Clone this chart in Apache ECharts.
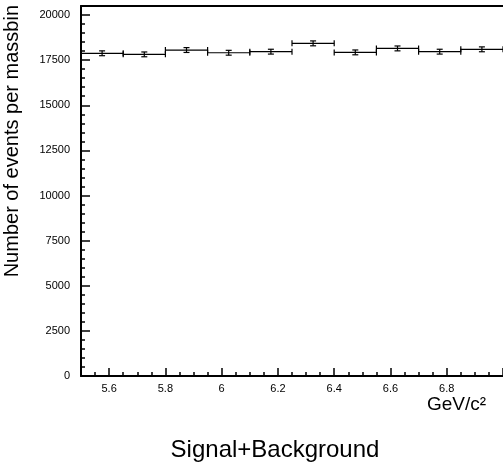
<!DOCTYPE html>
<html>
<head>
<meta charset="utf-8">
<script src="https://cdn.jsdelivr.net/npm/echarts@6/dist/echarts.min.js"></script>
<style>
  html, body { margin: 0; padding: 0; background: #fff; }
  #main { width: 503px; height: 463px; }
</style>
</head>
<body>
<div id="main"></div>
<script>
// histogram bins (GeV/c^2)
const binLow = [5.5, 5.65, 5.8, 5.95, 6.1, 6.25, 6.4, 6.55, 6.7, 6.85];
const binWidth = 0.15;
const counts = [17880, 17820, 18060, 17910, 17970, 18430, 17930, 18150, 17970, 18100];
const errors = [134, 133, 134, 134, 134, 136, 134, 135, 134, 135];
const xTicks = [5.6, 5.8, 6.0, 6.2, 6.4, 6.6, 6.8, 7.0];
const xLabels = [5.6, 5.8, 6.0, 6.2, 6.4, 6.6, 6.8];
const yTicks = [0, 2500, 5000, 7500, 10000, 12500, 15000, 17500, 20000];

const histData = binLow.map((lo, i) => [lo, lo + binWidth, counts[i], errors[i]]);

const myChart = echarts.init(document.getElementById('main'));
const black = '#000';
const font = 'Liberation Sans, Arial, sans-serif';

myChart.setOption({
  animation: false,
  grid: { left: 81, right: 0, top: 6, bottom: 87 },
  xAxis: [
    { // minor ticks
      type: 'value', min: 5.5, max: 7.0, interval: 0.05, position: 'bottom',
      axisLine: { onZero: false, lineStyle: { color: black, width: 2 } },
      axisTick: { inside: true, length: 4, lineStyle: { color: black, width: 1.5 } },
      axisLabel: { show: false },
      splitLine: { show: false }
    },
    { // major ticks + labels
      type: 'value', min: 5.5, max: 7.0, position: 'bottom',
      axisLine: { show: false, onZero: false },
      axisTick: { inside: true, length: 8, customValues: xTicks, lineStyle: { color: black, width: 1.5 } },
      axisLabel: { customValues: xLabels, margin: 7, color: black, fontSize: 11, fontFamily: font,
        formatter: v => String(v) },
      splitLine: { show: false }
    },
    { // top frame
      type: 'value', min: 5.5, max: 7.0, position: 'top',
      axisLine: { onZero: false, lineStyle: { color: black, width: 2 } },
      axisTick: { show: false },
      axisLabel: { show: false },
      splitLine: { show: false }
    }
  ],
  yAxis: [
    {
      type: 'value', min: 0, max: 20500, interval: 500, position: 'left',
      axisLine: { show: true, onZero: false, lineStyle: { color: black, width: 2 } },
      axisTick: { inside: true, length: 4, lineStyle: { color: black, width: 1.5 } },
      axisLabel: { show: false },
      splitLine: { show: false }
    },
    {
      type: 'value', min: 0, max: 20500, position: 'left',
      axisLine: { show: false, onZero: false },
      axisTick: { inside: true, length: 9, customValues: yTicks, lineStyle: { color: black, width: 1.5 } },
      axisLabel: { customValues: yTicks, margin: 11, color: black, fontSize: 11, fontFamily: font,
        formatter: v => String(v) },
      splitLine: { show: false }
    }
  ],
  graphic: [
    {
      type: 'text', x: 12, y: 5, rotation: Math.PI / 2,
      style: { text: 'Number of events per massbin', font: '20px ' + font, fill: black, align: 'right', verticalAlign: 'middle' }
    },
    {
      type: 'text', x: 486, y: 405,
      style: { text: 'GeV/c\u00b2', font: '19px ' + font, fill: black, align: 'right', verticalAlign: 'middle' }
    },
    {
      type: 'text', x: 275, y: 450,
      style: { text: 'Signal+Background', font: '24px ' + font, fill: black, align: 'center', verticalAlign: 'middle' }
    }
  ],
  series: [
    {
      type: 'custom',
      xAxisIndex: 0,
      yAxisIndex: 0,
      encode: { x: [0, 1], y: [2] },
      data: histData,
      renderItem: function (params, api) {
        const lo = api.value(0), hi = api.value(1), v = api.value(2), e = api.value(3);
        const pLo = api.coord([lo, v]);
        const pHi = api.coord([hi, v]);
        const pUp = api.coord([(lo + hi) / 2, v + e]);
        const pDn = api.coord([(lo + hi) / 2, v - e]);
        const st = { stroke: black, lineWidth: 1.2, fill: null };
        const line = (x1, y1, x2, y2) => ({ type: 'line', shape: { x1, y1, x2, y2 }, style: st });
        return {
          type: 'group',
          children: [
            line(pLo[0], pLo[1], pHi[0], pHi[1]),
            line(pLo[0], pLo[1] - 3, pLo[0], pLo[1] + 3),
            line(pHi[0], pHi[1] - 3, pHi[0], pHi[1] + 3),
            line(pUp[0], pUp[1], pDn[0], pDn[1]),
            line(pUp[0] - 3, pUp[1], pUp[0] + 3, pUp[1]),
            line(pDn[0] - 3, pDn[1], pDn[0] + 3, pDn[1])
          ]
        };
      }
    }
  ]
});
window.onresize = function () {
  myChart.resize();
};
</script>
</body>
</html>
